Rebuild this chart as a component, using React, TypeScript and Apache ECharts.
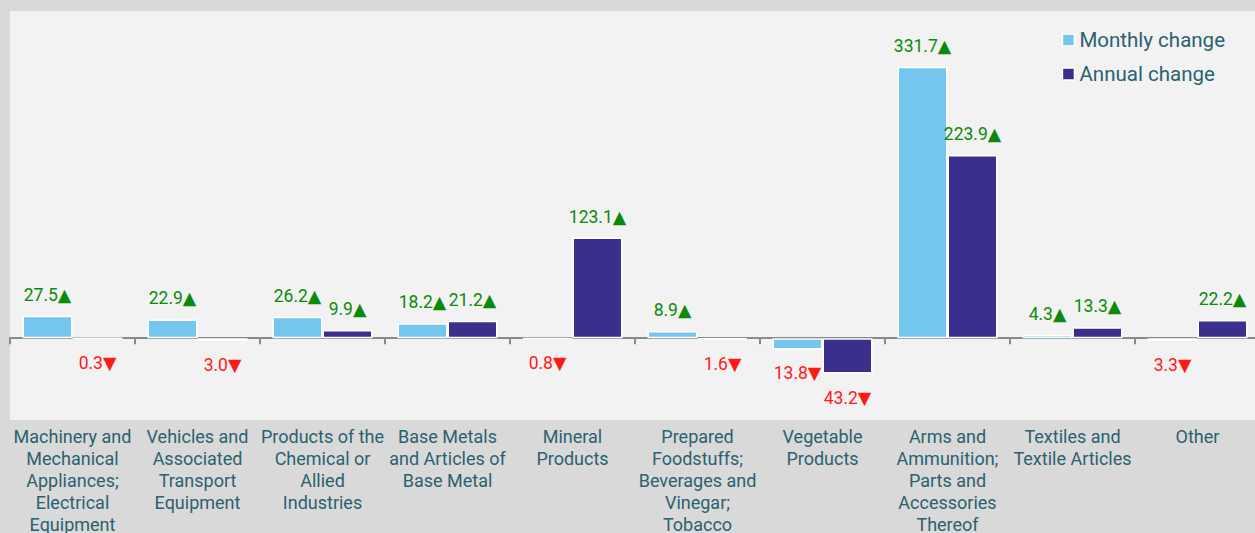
import React, { useEffect, useRef } from "react";
import * as echarts from "echarts";

const categories = [
  "Machinery and\nMechanical\nAppliances;\nElectrical\nEquipment",
  "Vehicles and\nAssociated\nTransport\nEquipment",
  "Products of the\nChemical or\nAllied\nIndustries",
  "Base Metals\nand Articles of\nBase Metal",
  "Mineral\nProducts",
  "Prepared\nFoodstuffs;\nBeverages and\nVinegar;\nTobacco",
  "Vegetable\nProducts",
  "Arms and\nAmmunition;\nParts and\nAccessories\nThereof",
  "Textiles and\nTextile Articles",
  "Other",
];
const monthlyChange = [27.5, 22.9, 26.2, 18.2, -0.8, 8.9, -13.8, 331.7, 4.3, -3.3];
const annualChange = [-0.3, -3.0, 9.9, 21.2, 123.1, -1.6, -43.2, 223.9, 13.3, 22.2];

const GREEN = "#0a8a0a";
const RED = "#ff1a1a";
const TEXT = "#2b6170";
const FONT = "Roboto, 'DejaVu Sans', sans-serif";

function toItems(vals: number[]) {
  return vals.map((v) => ({
    value: v,
    label: {
      position: v >= 0 ? "top" : "bottom",
      distance: v >= 0 ? 12 : 15,
      color: v >= 0 ? GREEN : RED,
    },
  }));
}

export default function App() {
  const ref = useRef<HTMLDivElement>(null);
  useEffect(() => {
    document.body.style.margin = "0";
    const chart = echarts.init(ref.current!, null, { renderer: "svg" });
    const labelCommon = {
      show: true,
      fontSize: 17.5,
      fontFamily: FONT,
      formatter: (p: any) =>
        Math.abs(p.value).toFixed(1) + (p.value >= 0 ? "\u25B2" : "\u25BC"),
    };
    chart.setOption({
      animation: false,
      backgroundColor: "#d9d9d9",
      textStyle: { fontFamily: FONT },
      legend: {
        orient: "vertical",
        right: 25,
        top: 24,
        itemWidth: 12,
        itemHeight: 12,
        itemGap: 12,
        icon: "rect",
        itemStyle: { borderColor: "#ffffff", borderWidth: 1.5 },
        textStyle: { fontSize: 20.5, color: TEXT, fontFamily: FONT, lineHeight: 22 },
        data: ["Monthly change", "Annual change"],
      },
      grid: {
        left: 10,
        top: 11,
        width: 1250,
        height: 409,
        show: true,
        backgroundColor: "#f2f2f2",
        borderWidth: 0,
        containLabel: false,
        outerBoundsMode: "none",
      },
      xAxis: [
        {
          type: "category",
          data: categories,
          axisLine: { onZero: true, lineStyle: { color: "#8a8a8a", width: 2 } },
          axisTick: { show: true, length: 6, lineStyle: { color: "#8a8a8a", width: 2 } },
          axisLabel: { show: false },
        },
        {
          type: "category",
          data: categories,
          position: "bottom",
          axisLine: { show: false, onZero: false },
          axisTick: { show: false },
          axisLabel: {
            interval: 0,
            margin: 5,
            fontSize: 18,
            lineHeight: 22,
            color: TEXT,
            fontFamily: FONT,
            align: "center",
          },
        },
      ],
      yAxis: {
        type: "value",
        min: -100,
        max: 400,
        show: false,
        splitLine: { show: false },
      },
      series: [
        {
          name: "Monthly change",
          type: "bar",
          xAxisIndex: 0,
          barWidth: "40%",
          barGap: "0%",
          itemStyle: { color: "#74c6ef", borderColor: "#ffffff", borderWidth: 1.5 },
          label: labelCommon,
          data: toItems(monthlyChange),
        },
        {
          name: "Annual change",
          type: "bar",
          xAxisIndex: 0,
          barWidth: "40%",
          barGap: "0%",
          itemStyle: { color: "#3b2f8e", borderColor: "#ffffff", borderWidth: 1.5 },
          label: labelCommon,
          data: toItems(annualChange),
        },
      ],
    });
    return () => chart.dispose();
  }, []);
  return <div ref={ref} style={{ width: 1255, height: 533 }} />;
}
